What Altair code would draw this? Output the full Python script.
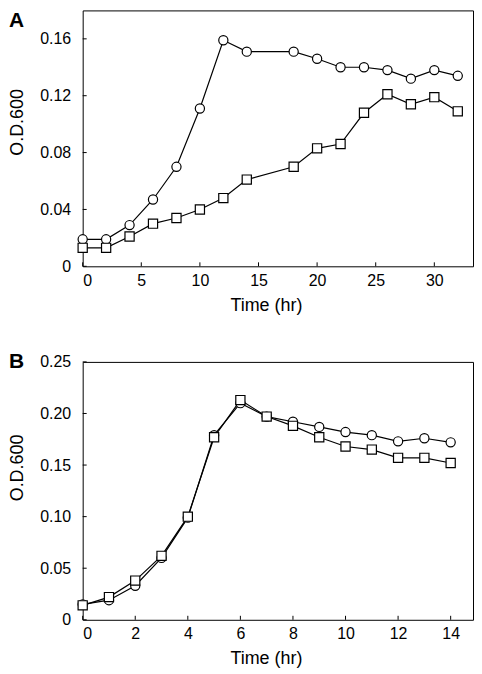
import altair as alt
import pandas as pd

# ---- data ----
a_time = [0, 2, 4, 6, 8, 10, 12, 14, 18, 20, 22, 24, 26, 28, 30, 32]
a_circle = [0.019, 0.019, 0.029, 0.047, 0.070, 0.111, 0.159, 0.151, 0.151,
            0.146, 0.140, 0.140, 0.138, 0.132, 0.138, 0.134]
a_square = [0.013, 0.013, 0.021, 0.030, 0.034, 0.040, 0.048, 0.061, 0.070,
            0.083, 0.086, 0.108, 0.121, 0.114, 0.119, 0.109]

b_time = [0, 1, 2, 3, 4, 5, 6, 7, 8, 9, 10, 11, 12, 13, 14]
b_circle = [0.015, 0.019, 0.033, 0.060, 0.099, 0.179, 0.210, 0.197, 0.192,
            0.187, 0.182, 0.179, 0.173, 0.176, 0.172]
b_square = [0.014, 0.022, 0.038, 0.062, 0.100, 0.177, 0.213, 0.197, 0.188,
            0.177, 0.168, 0.165, 0.157, 0.157, 0.152]

a_xticks = [0, 5, 10, 15, 20, 25, 30]
a_yticks = [0, 0.04, 0.08, 0.12, 0.16]
b_xticks = [0, 2, 4, 6, 8, 10, 12, 14]
b_yticks = [0, 0.05, 0.10, 0.15, 0.20, 0.25]
panel_labels = ["A", "B"]
series = ["circle", "square"]

FONT = "Liberation Sans"


def panel(times, circ, sq, xdom, ydom, xticks, yticks, W, H, label, lab_baseline, lab_y, ytitle_y):
    df = pd.DataFrame({
        "time": times + times,
        "od": circ + sq,
        "strain": [series[0]] * len(times) + [series[1]] * len(times),
    })
    xs = alt.Scale(domain=xdom, nice=False, zero=False)
    ys = alt.Scale(domain=ydom, nice=False)
    xaxis = alt.Axis(values=xticks, labelPadding=6, titlePadding=8, titleX=184)
    yaxis = alt.Axis(values=yticks, labelPadding=12, titlePadding=13, titleY=ytitle_y,
                     labelExpr="datum.value == 0 ? '0' : format(datum.value, '.2f')")
    x = alt.X("time:Q", scale=xs, title="Time (hr)", axis=xaxis)
    y = alt.Y("od:Q", scale=ys, title="O.D.600", axis=yaxis)
    base = alt.Chart(df)
    lines = base.mark_line(color="black", strokeWidth=1.2).encode(
        x=x, y=y, detail="strain:N")
    pts = base.mark_point(filled=True, color="white", stroke="black",
                          strokeWidth=1.2, opacity=1, size=85).encode(
        x=x, y=y,
        shape=alt.Shape("strain:N", scale=alt.Scale(domain=series, range=["circle", "square"]),
                        legend=None),
        order=alt.Order("strain:N"))
    xt = alt.Chart(pd.DataFrame({"time": xticks})).mark_rule(color="black", strokeWidth=1).encode(
        x=x, y=alt.value(H - 4), y2=alt.value(H))
    yt = alt.Chart(pd.DataFrame({"od": yticks})).mark_rule(color="black", strokeWidth=1).encode(
        y=y, x=alt.value(0), x2=alt.value(4))
    lab = alt.Chart(pd.DataFrame({"p": [label]})).mark_text(
        font=FONT, fontSize=21, fontWeight="bold", align="left",
        baseline=lab_baseline, color="black").encode(
        text="p:N", x=alt.value(-74), y=alt.value(lab_y))
    return alt.layer(lines, pts, xt, yt, lab).properties(width=W, height=H)


pa = panel(a_time, a_circle, a_square, [0, 33.3], [0, 0.18], a_xticks, a_yticks,
           392, 257, panel_labels[0], "top", 0, 112)
pb = panel(b_time, b_circle, b_square, [0, 14.85], [0, 0.25], b_xticks, b_yticks,
           392, 259, panel_labels[1], "middle", 0, 106)

chart = alt.vconcat(pa, pb, spacing=35).properties(padding=0).configure_view(
    stroke="black", strokeWidth=1
).configure_axis(
    labelFont=FONT, titleFont=FONT, labelFontSize=16, titleFontSize=18,
    titleFontWeight="normal", labelColor="black", titleColor="black",
    domain=False, ticks=False, tickSize=0, grid=False
)

chart.save("out.html", embed_options={"renderer": "svg", "actions": False})
